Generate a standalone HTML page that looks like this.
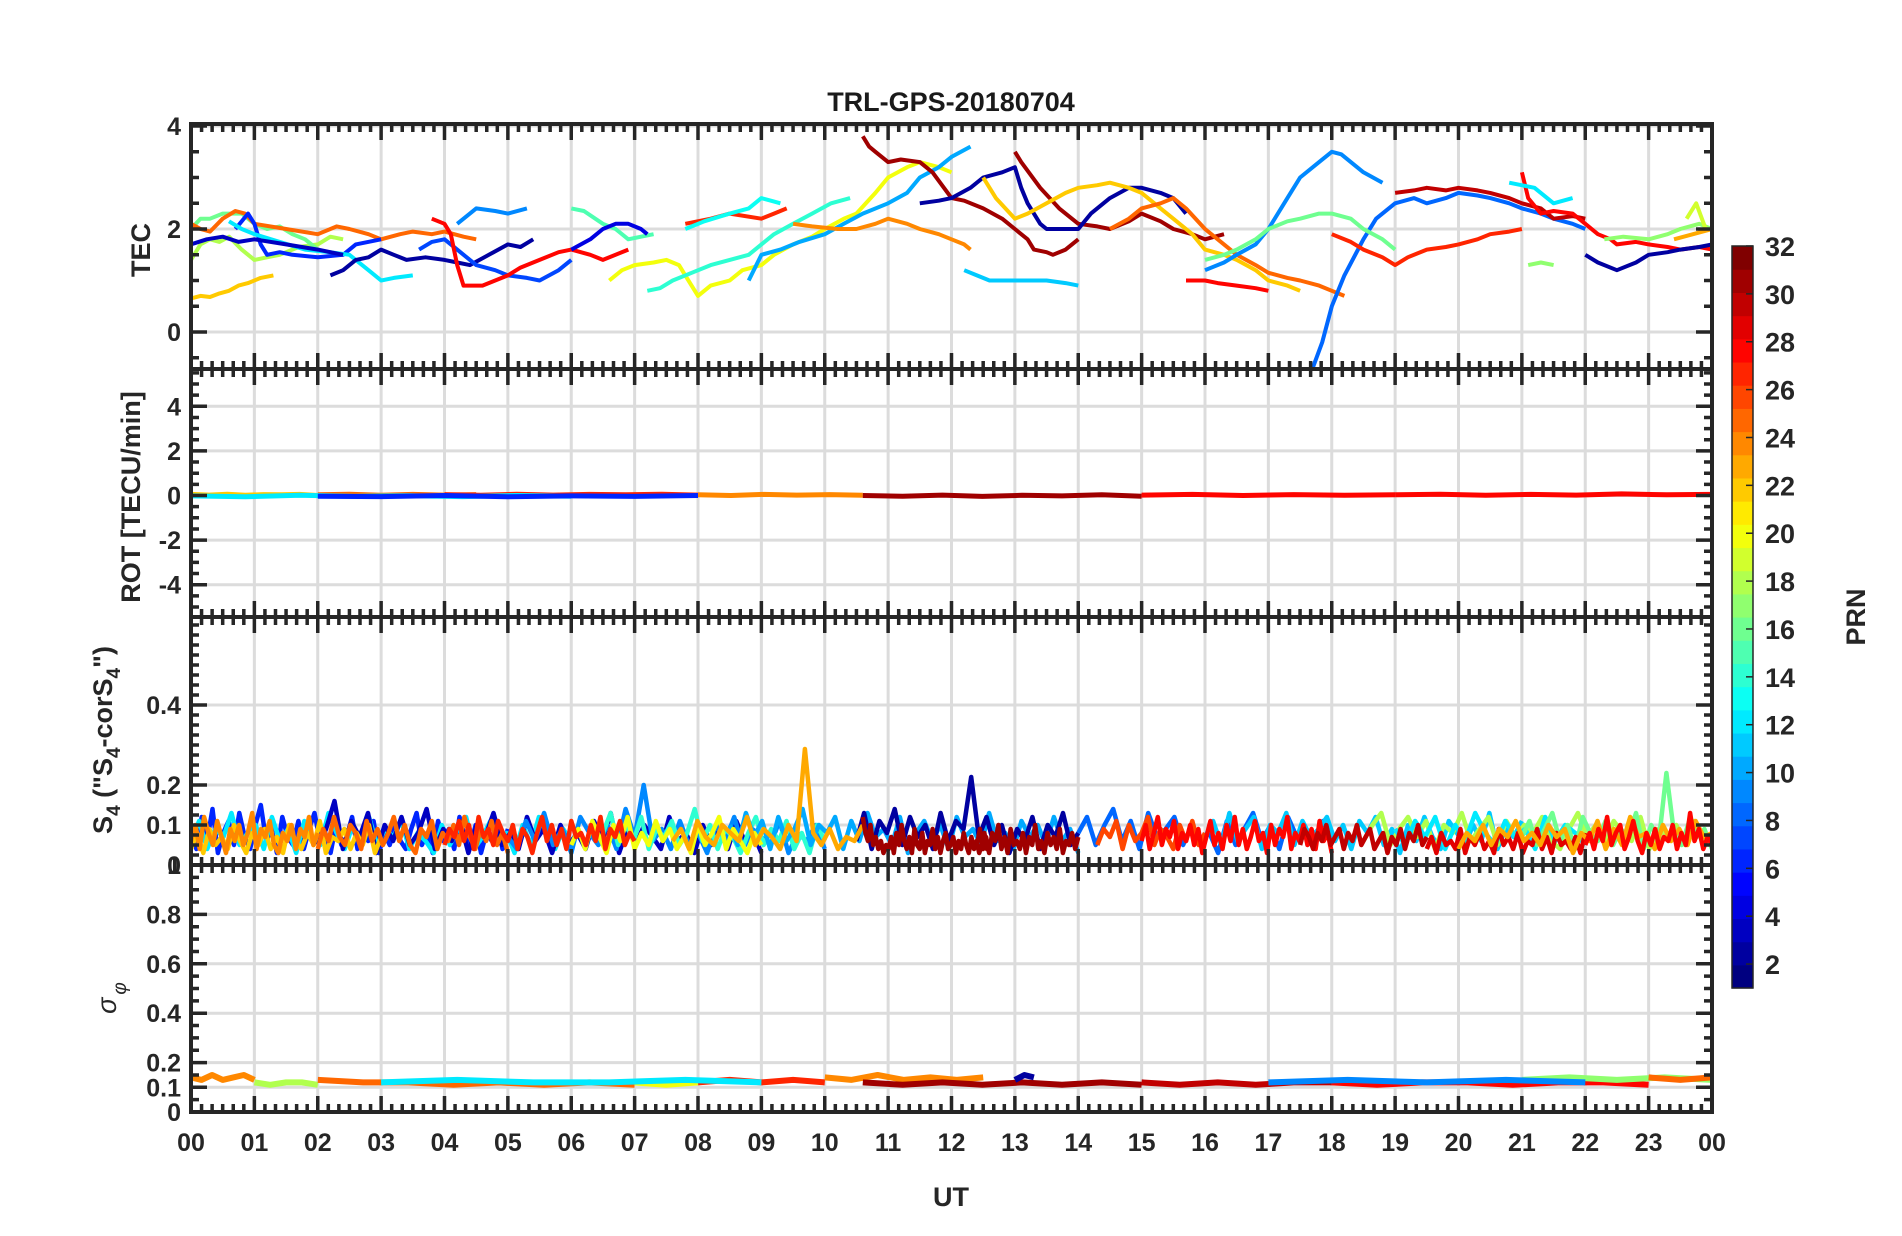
<!DOCTYPE html>
<html><head><meta charset="utf-8"><style>
body{margin:0;background:#fff;}
svg{display:block;font-family:"Liberation Sans",sans-serif;}
</style></head><body>
<svg id="chart" width="1902" height="1236" viewBox="0 0 1902 1236" xmlns="http://www.w3.org/2000/svg">
<rect width="1902" height="1236" fill="#fff"/>
<text x="951" y="111" text-anchor="middle" font-size="27" font-weight="bold" fill="#1a1a1a">TRL-GPS-20180704</text>
<g id="grid"></g><g id="data"></g><g id="axes"></g><g id="cbar"></g>
<text transform="translate(150,250) rotate(-90)" text-anchor="middle" font-size="27" font-weight="bold" fill="#262626">TEC</text>
<text transform="translate(140,497) rotate(-90)" text-anchor="middle" font-size="27" font-weight="bold" fill="#262626">ROT [TECU/min]</text>
<text transform="translate(112,740) rotate(-90)" text-anchor="middle" font-size="27" font-weight="bold" fill="#262626">S<tspan font-size="19" dy="8">4</tspan><tspan dy="-8"> ("S</tspan><tspan font-size="19" dy="8">4</tspan><tspan dy="-8">-corS</tspan><tspan font-size="19" dy="8">4</tspan><tspan dy="-8">")</tspan></text>
<text transform="translate(116,998) rotate(-90)" text-anchor="middle" font-size="27" font-style="italic" fill="#262626">σ<tspan font-size="19" dy="10" dx="3">φ</tspan></text>
<text x="951" y="1206" text-anchor="middle" font-size="27" font-weight="bold" fill="#262626">UT</text>
<text transform="translate(1865,617) rotate(-90)" text-anchor="middle" font-size="27" font-weight="bold" fill="#262626">PRN</text>
</svg>
<script>
// ---------- data ----------
const hourTicks=["00","01","02","03","04","05","06","07","08","09","10","11","12","13","14","15","16","17","18","19","20","21","22","23","00"];
const prnTicks=[2,4,6,8,10,12,14,16,18,20,22,24,26,28,30,32];
// TEC tracks: prn, then [hour,tec] pairs
const tecPrn=[22,18,16,25,6,12,3,2,7,9,28,27,15,4,20,14,13,10,24,31,31,2,11,22,25,28,8,9,16,27,30,28,12,2,17,17,19,23];
const tecPts=[
[[0,0.65],[0.15,0.7],[0.3,0.68],[0.45,0.75],[0.6,0.8],[0.75,0.9],[0.9,0.95],[1.1,1.05],[1.3,1.1]],
[[0,1.4],[0.15,1.7],[0.3,1.8],[0.45,1.75],[0.6,1.85],[0.8,1.6],[1.0,1.4],[1.2,1.45],[1.4,1.5],[1.7,1.65],[2.0,1.7],[2.2,1.85],[2.4,1.8]],
[[0,2.0],[0.15,2.2],[0.3,2.2],[0.5,2.3],[0.8,2.3],[1.0,2.1],[1.2,2.0],[1.4,2.05],[1.6,1.9],[1.8,1.8],[2.0,1.6]],
[[0,2.1],[0.15,2.0],[0.3,1.95],[0.5,2.2],[0.7,2.35],[0.85,2.3],[1.0,2.1],[1.5,2.0],[2.0,1.9],[2.3,2.05],[2.5,2.0],[2.8,1.9],[3.0,1.8],[3.3,1.9],[3.5,1.95],[3.8,1.9],[4.0,1.95],[4.3,1.85],[4.5,1.8]],
[[0.7,2.0],[0.9,2.3],[1.0,2.1],[1.1,1.7],[1.2,1.5],[1.4,1.55],[1.6,1.5],[2.0,1.45],[2.4,1.5],[2.6,1.7],[3.0,1.8]],
[[0.6,2.15],[0.8,2.0],[1.0,1.9],[1.4,1.75],[1.8,1.6],[2.2,1.55],[2.5,1.5],[2.8,1.2],[3.0,1.0],[3.2,1.05],[3.5,1.1]],
[[0,1.7],[0.25,1.8],[0.5,1.85],[0.75,1.75],[1.0,1.8],[1.5,1.7],[2.0,1.6],[2.4,1.5]],
[[2.2,1.1],[2.4,1.2],[2.6,1.4],[2.8,1.45],[3.0,1.6],[3.2,1.5],[3.4,1.4],[3.7,1.45],[4.0,1.4],[4.2,1.35],[4.4,1.3],[4.7,1.5],[5.0,1.7],[5.2,1.65],[5.4,1.8]],
[[3.6,1.6],[3.8,1.75],[4.0,1.8],[4.2,1.6],[4.5,1.3],[4.8,1.2],[5.0,1.1],[5.3,1.05],[5.5,1.0],[5.8,1.2],[6.0,1.4]],
[[4.2,2.1],[4.4,2.3],[4.5,2.4],[4.8,2.35],[5.0,2.3],[5.3,2.4]],
[[3.8,2.2],[4.0,2.1],[4.1,1.9],[4.2,1.3],[4.3,0.9],[4.6,0.9],[4.8,1.0],[5.0,1.1],[5.2,1.25],[5.5,1.4],[5.8,1.55],[6.0,1.6],[6.3,1.5],[6.5,1.4],[6.9,1.6]],
[[7.8,2.1],[8.2,2.2],[8.5,2.3],[9.0,2.2],[9.2,2.3],[9.4,2.4]],
[[6.0,2.4],[6.2,2.35],[6.5,2.1],[6.7,2.0],[6.9,1.8],[7.1,1.85],[7.3,1.9]],
[[6.0,1.6],[6.3,1.8],[6.5,2.0],[6.7,2.1],[6.9,2.1],[7.1,2.0],[7.2,1.9]],
[[6.6,1.0],[6.8,1.2],[7.0,1.3],[7.3,1.35],[7.5,1.4],[7.7,1.3],[7.8,1.1],[8.0,0.7],[8.2,0.9],[8.5,1.0],[8.7,1.2],[9.0,1.3],[9.2,1.5],[9.5,1.7],[9.8,1.85],[10.0,2.0],[10.3,2.2],[10.5,2.3],[10.8,2.7],[11.0,3.0],[11.3,3.2],[11.5,3.3],[11.8,3.2],[12.0,3.1]],
[[7.2,0.8],[7.4,0.85],[7.6,1.0],[7.9,1.15],[8.2,1.3],[8.5,1.4],[8.8,1.5],[9.0,1.7],[9.2,1.9],[9.5,2.1],[9.8,2.3],[10.1,2.5],[10.4,2.6]],
[[7.8,2.0],[8.1,2.15],[8.5,2.3],[8.8,2.4],[9.0,2.6],[9.15,2.55],[9.3,2.5]],
[[8.8,1.0],[9.0,1.5],[9.3,1.6],[9.6,1.75],[10.0,1.9],[10.3,2.1],[10.6,2.3],[11.0,2.5],[11.3,2.7],[11.5,3.0],[11.8,3.2],[12.0,3.4],[12.3,3.6]],
[[9.5,2.1],[9.8,2.05],[10.2,2.0],[10.5,2.0],[10.8,2.1],[11.0,2.2],[11.3,2.1],[11.5,2.0],[11.8,1.9],[12.0,1.8],[12.2,1.7],[12.3,1.6]],
[[10.6,3.8],[10.7,3.6],[10.8,3.5],[11.0,3.3],[11.2,3.35],[11.5,3.3],[11.7,3.1],[12.0,2.6],[12.2,2.55],[12.5,2.4],[12.8,2.2],[13.0,2.0],[13.2,1.8],[13.3,1.6],[13.5,1.55],[13.6,1.5],[13.8,1.6],[14.0,1.8]],
[[13.0,3.5],[13.1,3.3],[13.4,2.8],[13.7,2.4],[14.0,2.1],[14.3,2.05],[14.5,2.0],[14.8,2.15],[15.0,2.3],[15.3,2.15],[15.5,2.0],[15.8,1.9],[16.0,1.8],[16.3,1.9]],
[[11.5,2.5],[11.8,2.55],[12.0,2.6],[12.3,2.8],[12.5,3.0],[12.8,3.1],[13.0,3.2],[13.1,2.8],[13.2,2.5],[13.4,2.1],[13.5,2.0],[13.8,2.0],[14.0,2.0],[14.2,2.3],[14.5,2.6],[14.8,2.8],[15.0,2.8],[15.3,2.7],[15.5,2.6],[15.7,2.3]],
[[12.2,1.2],[12.4,1.1],[12.6,1.0],[13.0,1.0],[13.5,1.0],[13.8,0.95],[14.0,0.9]],
[[12.5,3.0],[12.7,2.6],[13.0,2.2],[13.2,2.3],[13.5,2.5],[13.8,2.7],[14.0,2.8],[14.3,2.85],[14.5,2.9],[14.8,2.8],[15.0,2.7],[15.3,2.4],[15.5,2.2],[15.8,1.9],[16.0,1.6],[16.3,1.5],[16.5,1.4],[16.8,1.2],[17.0,1.0],[17.3,0.9],[17.5,0.8]],
[[14.5,2.0],[14.8,2.2],[15.0,2.4],[15.3,2.5],[15.5,2.6],[15.7,2.4],[16.0,2.0],[16.3,1.7],[16.5,1.5],[16.8,1.3],[17.0,1.15],[17.3,1.05],[17.5,1.0],[17.8,0.9],[18.0,0.8],[18.2,0.7]],
[[15.7,1.0],[16.0,1.0],[16.2,0.95],[16.5,0.9],[16.8,0.85],[17.0,0.8]],
[[17.7,-0.7],[17.85,-0.2],[18.0,0.5],[18.2,1.1],[18.5,1.8],[18.7,2.2],[19.0,2.5],[19.3,2.6],[19.5,2.5],[19.8,2.6],[20.0,2.7],[20.3,2.65],[20.5,2.6],[20.8,2.5],[21.0,2.4],[21.3,2.3],[21.5,2.2],[21.8,2.1],[22.0,2.0]],
[[16.0,1.2],[16.3,1.35],[16.5,1.5],[16.8,1.7],[17.0,2.0],[17.3,2.6],[17.5,3.0],[17.8,3.3],[18.0,3.5],[18.15,3.45],[18.3,3.3],[18.5,3.1],[18.8,2.9]],
[[16.0,1.4],[16.3,1.5],[16.5,1.6],[16.8,1.8],[17.0,2.0],[17.3,2.15],[17.5,2.2],[17.8,2.3],[18.0,2.3],[18.3,2.2],[18.5,2.0],[18.8,1.8],[19.0,1.6]],
[[18.0,1.9],[18.3,1.75],[18.5,1.6],[18.8,1.45],[19.0,1.3],[19.2,1.45],[19.5,1.6],[19.8,1.65],[20.0,1.7],[20.3,1.8],[20.5,1.9],[20.8,1.95],[21.0,2.0]],
[[19.0,2.7],[19.3,2.75],[19.5,2.8],[19.8,2.75],[20.0,2.8],[20.3,2.75],[20.5,2.7],[20.8,2.6],[21.0,2.5],[21.3,2.4],[21.5,2.2],[21.8,2.25],[22.0,2.2]],
[[21.0,3.1],[21.1,2.6],[21.3,2.3],[21.5,2.35],[21.8,2.3],[22.0,2.1],[22.2,1.9],[22.4,1.8],[22.5,1.7],[22.8,1.75],[23.0,1.7],[23.3,1.65],[23.5,1.6],[23.8,1.65],[24,1.6]],
[[20.8,2.9],[21.2,2.8],[21.5,2.5],[21.8,2.6]],
[[22.0,1.5],[22.2,1.35],[22.5,1.2],[22.8,1.35],[23.0,1.5],[23.3,1.55],[23.5,1.6],[23.8,1.65],[24,1.7]],
[[21.1,1.3],[21.3,1.35],[21.5,1.3]],
[[22.3,1.8],[22.6,1.85],[23.0,1.8],[23.3,1.9],[23.5,2.0],[23.8,2.1],[24,2.0]],
[[23.6,2.2],[23.75,2.5],[23.9,2.0]],
[[23.4,1.8],[23.7,1.9],[24,2.0]]];
// S4 segments: prn, start hour, end hour, values x100
const s4Prn=[6,12,3,9,14,10,2,8,11,18,12,16,22,20,24,25,23,27,26,31,31,28,30,29,23,28];
const s4Start=[0,0,2,5,6.5,8.5,10.5,14,16,18.5,19,21,0,6,0,2,7.6,4,14.3,10.6,12.4,15,17.5,19.5,20,22];
const s4End=[5,6,9,10,10,14,14,18,21,24,22,24,3,9,2,5,10.6,7,16,12.6,14,18,19.5,22,24,24];
const s4Vals=[
[9,4,12,6,14,3,8,11,5,13,7,4,10,15,6,9,3,12,7,5,11,4,9,13,6,8,3,10,5,7,12,4,9,6,11,3,8,5,10,6,4,9,13,5,8,3,11,6,9,4,12,7,5,10,3,8,6,11,4,9],
[6,11,4,9,7,13,5,8,10,4,12,6,9,3,11,7,5,13,8,4,10,6,12,5,9,7,11,4,8,6,3,10,5,9,12,4,7,11,6,8,3,10,5,12,7,4,9,6],
[5,9,16,4,11,7,13,3,10,6,12,5,8,14,4,9,6,11,3,10,7,13,5,8,4,12,6,9,3,10,5,8,4,11,6,13,3,9,5,10,7,4,12,6,8,3,10,5,9,4,11,6,8,3],
[7,4,11,6,13,5,9,3,12,8,5,10,4,14,7,20,6,9,4,11,5,8,3,10,6,12,4,9,7,5,11,3,8,6,10,4],
[8,13,5,10,6,12,4,9,7,11,5,8,14,6,10,4,9,7,3,8,12,5,9,6,11,4,8,3,10,6],
[10,5,13,7,11,4,12,6,9,14,5,10,8,12,4,11,6,13,7,9,5,12,3,8,11,6,10,4,12,7,9,5,13,6,8,4,11,7,10,5,12,6,9,3],
[6,13,4,11,8,14,5,12,7,10,4,13,6,11,9,22,7,12,5,10,3,9,6,12,4,10,7,13,5,8],
[8,12,5,10,14,6,11,4,13,7,9,12,5,10,6,8,3,11,5,9,13,6,10,4,12,7,9,5,11,6],
[7,11,5,13,6,9,12,4,10,8,13,5,11,7,9,12,6,10,4,11,8,12,5,9,3,10,6,12,7,4,11,8,5,10,6,13,4,9,7,11],
[6,10,13,5,9,12,7,11,4,10,8,13,6,9,12,5,11,7,10,8,12,6,4,9,13,7,10,5,11,8,6,12,4,9,7,10,5,11,6,8],
[9,5,11,7,12,4,10,6,13,8,5,11,7,9,4,12,6,10,8,5],
[7,11,5,9,13,6,10,4,12,8,6,11,5,9,7,13,4,10,6,23,8,5,11,7,9,4],
[4,8,3,9,5,7,4,10,6,3,8,5,9,4,7,3,10,6,4,8,5,11,3,7,6,9,4,8,5,10,3,7],
[5,9,4,11,7,3,10,6,12,4,8,5,11,6,9,4,7,3,10,5,8,12,4,9,6,3,8,5],
[6,10,4,12,8,5,11,7,3,9,6,10,5,8,13,4,9,7,11,5,3,8,6,10,4,9,7,12,5,8],
[4,9,6,12,7,5,10,8,4,11,6,9,5,8,12,6,10,5,3,9,7,11,4,8,6,10,5,12,7,4,9,6,11,5,8,3],
[6,9,4,11,7,5,10,8,6,12,5,9,7,4,10,6,29,8,5,9,4,7,6,10],
[5,9,7,11,6,10,4,12,7,9,5,11,8,6,10,4,9,7,3,8,12,6,10,5,9,4,11,7,8,5,10,6,12,4,9,7,11,5,8,6],
[5,9,7,11,4,10,6,8,12,5,9,7,4,10,6,11,5,8],
[12,8,6,10,5,7,4,6,3,5,4,7,3,8,5,10,6,4,7,3,9,5,4,8,3,6,5,9,4,7,3,6,8,4,5,7,3,6,4,8,5,3,7,4,6,3,5,8,4,6],
[5,9,4,7,3,8,6,10,4,7,3,9,5,6,4,8,3,7,5,10,4,6,3,8,5,7,4,9,3,6,5,8,4,7],
[6,10,4,8,12,5,9,7,11,4,8,6,10,5,9,3,7,11,5,8,4,10,6,12,5,9,4,7,11,6,8,3,10,5,9,7,12,4,8,6,10,5,9,4,11,6,8,3],
[5,9,7,4,8,6,10,5,7,9,4,8,6,10,5,7,9,4,6,8,3,7,5,9,4,8,6,10,5,7],
[4,7,3,8,5,6,4,9,3,7,5,8,4,6,3,9,5,7,4,8,3,6,5,9,4,7,3,8,5,6,4,7,3,8],
[4,8,6,10,5,9,7,11,6,8,5,10,7,9,3,8,6,11,4,9,5,12,7,8,4,10,6,9,5,11,7,8],
[5,8,4,9,6,12,5,8,10,4,7,11,6,3,8,5,9,4,7,6,10,4,8,5,13,6,9,4,7,5]];
// ROT segments: prn, start, end, values
const rotPrn=[22,25,27,24,31,28,28,12,6];
const rotStart=[0,2,4,8,10.6,15,19,0,2];
const rotEnd=[2,4.5,8,10.6,15,19,24,6,8];
const rotVals=[
[0.05,0.02,0.06,0.01,0.04,0.03,0.05,0.0],[0.03,0.06,0.01,0.05,0.02,0.04],[0.04,0.01,0.06,0.02,0.05,0.03,0.06,0.02],
[0.03,0.0,0.05,0.02,0.04,0.01],[0.0,-0.03,0.02,-0.04,0.01,-0.02,0.03,-0.03],[0.02,0.05,0.0,0.04,0.01,0.03],[0.03,0.06,0.01,0.05,0.02,0.07,0.03,0.05],
[-0.02,-0.06,0.01,-0.04,-0.01,-0.05,0.0,-0.03],[-0.03,-0.05,0.0,-0.06,-0.02,-0.04,0.0]];
// sigma-phi segments
const sigPrn=[24,18,25,20,27,24,31,2,30,28,17,25,12,9];
const sigStart=[0,1,2,7,8,10,10.6,13,15,18,21,23,3,17];
const sigEnd=[1,2,7,8,10,12.5,15,13.3,18,23,24,24,9,22];
const sigVals=[
[0.14,0.13,0.15,0.13,0.14,0.15,0.13],[0.12,0.11,0.12,0.12,0.11],[0.13,0.12,0.12,0.11,0.12,0.11,0.12,0.11],[0.12,0.11,0.12],[0.12,0.13,0.12,0.13,0.12],
[0.14,0.13,0.15,0.13,0.14,0.13,0.14],[0.12,0.11,0.12,0.11,0.12,0.11,0.12,0.11],[0.13,0.15,0.14],[0.12,0.11,0.12,0.11,0.12,0.12],[0.12,0.11,0.12,0.12,0.11,0.12,0.12,0.11],
[0.13,0.14,0.13,0.14,0.13],[0.14,0.13,0.14],[0.12,0.13,0.12,0.12,0.13,0.12],[0.12,0.13,0.12,0.13,0.12]];
// ---------- layout ----------
const X0=191,X1=1712;
const xs=h=>X0+(X1-X0)*h/24;
const panels=[
 {name:"tec",top:124,bot:369,z:332,k:51.5,ticks:[0,2,4],minor:0.5,grid:[0,2,4]},
 {name:"rot",top:369,bot:617,z:495.5,k:22.3,ticks:[-4,-2,0,2,4],minor:0.5,grid:[-4,-2,0,2,4]},
 {name:"s4",top:617,bot:865,z:865,k:400,ticks:[0,0.1,0.2,0.4],minor:0.025,grid:[0.1,0.2,0.4]},
 {name:"sigma",top:865,bot:1112,z:1112,k:247,ticks:[0,0.1,0.2,0.4,0.6,0.8],minor:0.05,grid:[0.1,0.2,0.4,0.6,0.8]}];
function jet(v){const c=x=>Math.round(255*Math.max(0,Math.min(1,x)));
 return `rgb(${c(1.5-Math.abs(4*v-3))},${c(1.5-Math.abs(4*v-2))},${c(1.5-Math.abs(4*v-1))})`;}
const prnColor=p=>jet((p-1)/31);
const NS="http://www.w3.org/2000/svg";
function mk(parent,tag,attrs){const e=document.createElementNS(NS,tag);for(const a in attrs)e.setAttribute(a,attrs[a]);parent.appendChild(e);return e;}
const G=document.getElementById('grid'),D=document.getElementById('data'),A=document.getElementById('axes'),C=document.getElementById('cbar');
panels.forEach(p=>{
 const ys=v=>p.z-p.k*v;
 for(let h=1;h<24;h++){const l=mk(G,'line',{x1:xs(h),x2:xs(h),y1:p.top,y2:p.bot,stroke:'#dcdcdc','stroke-width':3});
  
  }
 p.grid.forEach(v=>{const l=mk(G,'line',{x1:X0,x2:X1,y1:ys(v),y2:ys(v),stroke:'#dcdcdc','stroke-width':3});
  
  });
 const r=mk(A,'rect',{x:X0,y:p.top,width:X1-X0,height:p.bot-p.top,fill:'none',stroke:'#262626','stroke-width':4});
 
 
 let d='';
 for(let m=0;m<=24*6;m++){const x=xs(m/6),L=(m%6==0)?16:8;d+=`M${x},${p.top}v${L}M${x},${p.bot}v${-L}`;}
 const vmin=(p.z-p.bot)/p.k,vmax=(p.z-p.top)/p.k;
 for(let v=Math.ceil(vmin/p.minor)*p.minor;v<=vmax+1e-9;v+=p.minor){const y=ys(v);const maj=p.ticks.some(t=>Math.abs(t-v)<1e-6);const L=maj?16:8;d+=`M${X0},${y}h${L}M${X1},${y}h${-L}`;}
 const t=mk(A,'path',{d:d,stroke:'#262626','stroke-width':3.5,fill:'none'});
 
 
 p.ticks.forEach(v=>{const tx=mk(A,'text',{x:181,y:ys(v)+9,'text-anchor':'end','font-size':25,'font-weight':'bold',fill:'#262626'});tx.textContent=String(v);
  
  });
});
{const tx=mk(A,'text',{x:181,y:874,'text-anchor':'end','font-size':25,'font-weight':'bold',fill:'#262626'});tx.textContent='1';
 
 }
hourTicks.forEach((s,i)=>{const tx=mk(A,'text',{x:xs(i),y:1151,'text-anchor':'middle','font-size':25,'font-weight':'bold',fill:'#262626'});tx.textContent=s;
 
 });
panels.forEach(p=>{const cp=mk(D,'clipPath',{id:'clip-'+p.name});mk(cp,'rect',{x:X0,y:p.top,width:X1-X0,height:p.bot-p.top});});
const P0=panels[0];
tecPts.forEach((pts,i)=>{const d=pts.map((q,j)=>(j?'L':'M')+xs(q[0]).toFixed(1)+','+(P0.z-P0.k*q[1]).toFixed(1)).join('');
 const l=mk(D,'path',{d:d,stroke:prnColor(tecPrn[i]),'stroke-width':4,fill:'none','stroke-linejoin':'round','clip-path':'url(#clip-tec)'});
 
 });
function segs(pi,prns,st,en,vals,scale,w,label){const p=panels[pi];
 vals.forEach((vs,i)=>{const n=vs.length;const d=vs.map((v,j)=>{const h=st[i]+(en[i]-st[i])*j/(n-1);return (j?'L':'M')+xs(h).toFixed(1)+','+(p.z-p.k*v*scale).toFixed(1);}).join('');
  const l=mk(D,'path',{d:d,stroke:prnColor(prns[i]),'stroke-width':w,fill:'none','stroke-linejoin':'round','clip-path':'url(#clip-'+p.name+')'});
  
  });}
segs(1,rotPrn,rotStart,rotEnd,rotVals,1,5,'rot');
segs(2,s4Prn,s4Start,s4End,s4Vals,0.01,4.5,'s4');
segs(3,sigPrn,sigStart,sigEnd,sigVals,1,6,'sigma');
const CB0=1732,CB1=1753,CT=246,CBt=988;const cy=v=>CBt-(CBt-CT)*(v-1)/31;
for(let i=0;i<32;i++){const y0=CBt-(CBt-CT)*(i+1)/32,y1=CBt-(CBt-CT)*i/32;
 const r=mk(C,'rect',{x:CB0,y:y0,width:CB1-CB0,height:y1-y0+0.6,fill:jet(i/31)});
 
 }
{const r=mk(C,'rect',{x:CB0,y:CT,width:CB1-CB0,height:CBt-CT,fill:'none',stroke:'#262626','stroke-width':1.5});
 
 }
prnTicks.forEach(v=>{mk(C,'line',{x1:CB1-7,x2:CB1,y1:cy(v),y2:cy(v),stroke:'#262626','stroke-width':1.5});
 const tx=mk(C,'text',{x:1765,y:cy(v)+10,'font-size':27,'font-weight':'bold',fill:'#262626'});tx.textContent=String(v);
 
 });
</script>
</body></html>
